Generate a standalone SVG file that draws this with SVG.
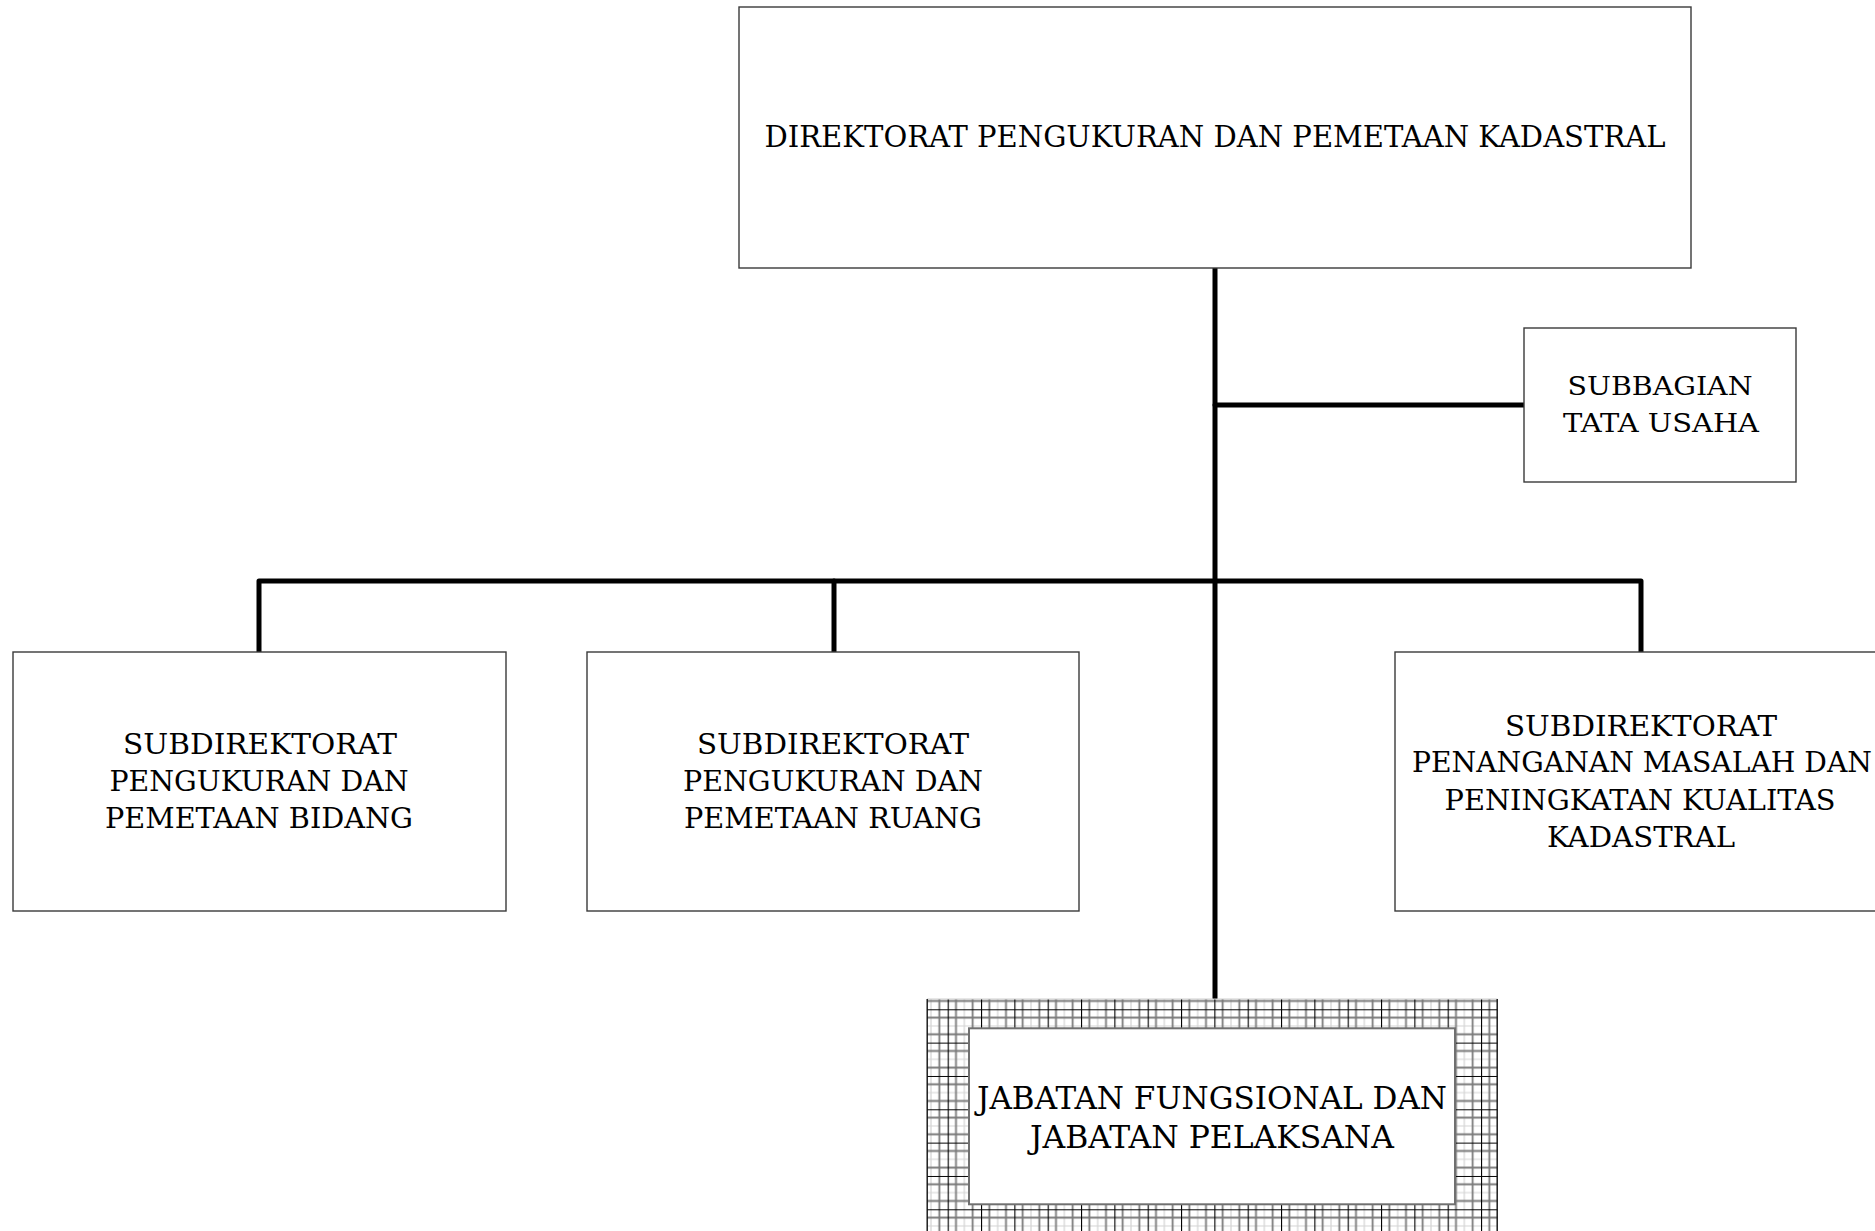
<svg xmlns="http://www.w3.org/2000/svg" width="1875" height="1231" viewBox="0 0 1875 1231">
  <style>
    .box { fill: #ffffff; stroke: #3a3a3a; stroke-width: 1.4; }
    .lbl { font-family: "DejaVu Serif", "Liberation Serif", serif; fill: #000000; text-anchor: middle; }
    .conn { fill: none; stroke: #000000; stroke-width: 5; stroke-linecap: round; stroke-linejoin: round; }
  </style>
  <defs>
    <!-- graph-paper hatch used around the functional positions box -->
    <pattern id="grid" patternUnits="userSpaceOnUse" x="947.67" y="1009.3" width="33.333" height="33.333">
      <rect width="33.333" height="33.333" fill="#ffffff"/>
      <path d="M16.67 0V33.333M0 16.67H33.333" stroke="#d4d4d4" stroke-width="1.2"/>
      <path d="M8.33 0V33.333M25 0V33.333M0 8.33H33.333M0 25H33.333" stroke="#7a7a7a" stroke-width="1.8"/>
      <path d="M0.5 0V33.333M0 0.5H33.333" stroke="#000000" stroke-width="1.2"/>
    </pattern>
  </defs>

  <g id="connectors">
    <path class="conn" d="M1215 267V998"/>
    <path class="conn" d="M1215 405H1524"/>
    <path class="conn" d="M259 652V581H1641V652"/>
    <path class="conn" d="M834 581V652"/>
  </g>

  <g id="direktorat">
    <rect class="box" x="739" y="7" width="952" height="261" stroke="#666666"/>
    <text class="lbl" x="1215" y="147" font-size="29" textLength="901" lengthAdjust="spacingAndGlyphs">DIREKTORAT PENGUKURAN DAN PEMETAAN KADASTRAL</text>
  </g>

  <g id="subbagian-tu">
    <rect class="box" x="1524" y="328" width="272" height="154" stroke="#555555"/>
    <text class="lbl" x="1660" y="395" font-size="26" textLength="185" lengthAdjust="spacingAndGlyphs">SUBBAGIAN</text>
    <text class="lbl" x="1661" y="432" font-size="26" textLength="196" lengthAdjust="spacingAndGlyphs">TATA USAHA</text>
  </g>

  <g id="subdit-bidang">
    <rect class="box" x="13" y="652" width="493" height="259"/>
    <text class="lbl" x="260" y="754" font-size="27" textLength="274" lengthAdjust="spacingAndGlyphs">SUBDIREKTORAT</text>
    <text class="lbl" x="259" y="791" font-size="27" textLength="299" lengthAdjust="spacingAndGlyphs">PENGUKURAN DAN</text>
    <text class="lbl" x="259" y="828" font-size="27" textLength="308" lengthAdjust="spacingAndGlyphs">PEMETAAN BIDANG</text>
  </g>

  <g id="subdit-ruang">
    <rect class="box" x="587" y="652" width="492" height="259"/>
    <text class="lbl" x="833" y="754" font-size="27" textLength="272" lengthAdjust="spacingAndGlyphs">SUBDIREKTORAT</text>
    <text class="lbl" x="833" y="791" font-size="27" textLength="300" lengthAdjust="spacingAndGlyphs">PENGUKURAN DAN</text>
    <text class="lbl" x="833" y="828" font-size="27" textLength="298" lengthAdjust="spacingAndGlyphs">PEMETAAN RUANG</text>
  </g>

  <g id="subdit-masalah">
    <rect class="box" x="1395" y="652" width="490" height="259"/>
    <text class="lbl" x="1641" y="736" font-size="27" textLength="272" lengthAdjust="spacingAndGlyphs">SUBDIREKTORAT</text>
    <text class="lbl" x="1642" y="772" font-size="27" textLength="460" lengthAdjust="spacingAndGlyphs">PENANGANAN MASALAH DAN</text>
    <text class="lbl" x="1640" y="810" font-size="27" textLength="391" lengthAdjust="spacingAndGlyphs">PENINGKATAN KUALITAS</text>
    <text class="lbl" x="1641" y="847" font-size="27" textLength="188" lengthAdjust="spacingAndGlyphs">KADASTRAL</text>
  </g>

  <g id="jabatan-fungsional">
    <rect x="927" y="999" width="570.5" height="240" fill="url(#grid)"/>
    <path d="M927 999H1497.5" stroke="#cfcfcf" stroke-width="1.2"/>
    <path d="M927.2 999V1231M1497.2 999V1231" stroke="#111111" stroke-width="1.4"/>
    <rect x="969" y="1028.3" width="486" height="176" fill="#ffffff" stroke="#707070" stroke-width="2"/>
    <text class="lbl" x="1212" y="1109" font-size="32" textLength="470" lengthAdjust="spacingAndGlyphs">JABATAN FUNGSIONAL DAN</text>
    <text class="lbl" x="1212" y="1148" font-size="32" textLength="364" lengthAdjust="spacingAndGlyphs">JABATAN PELAKSANA</text>
  </g>
</svg>
